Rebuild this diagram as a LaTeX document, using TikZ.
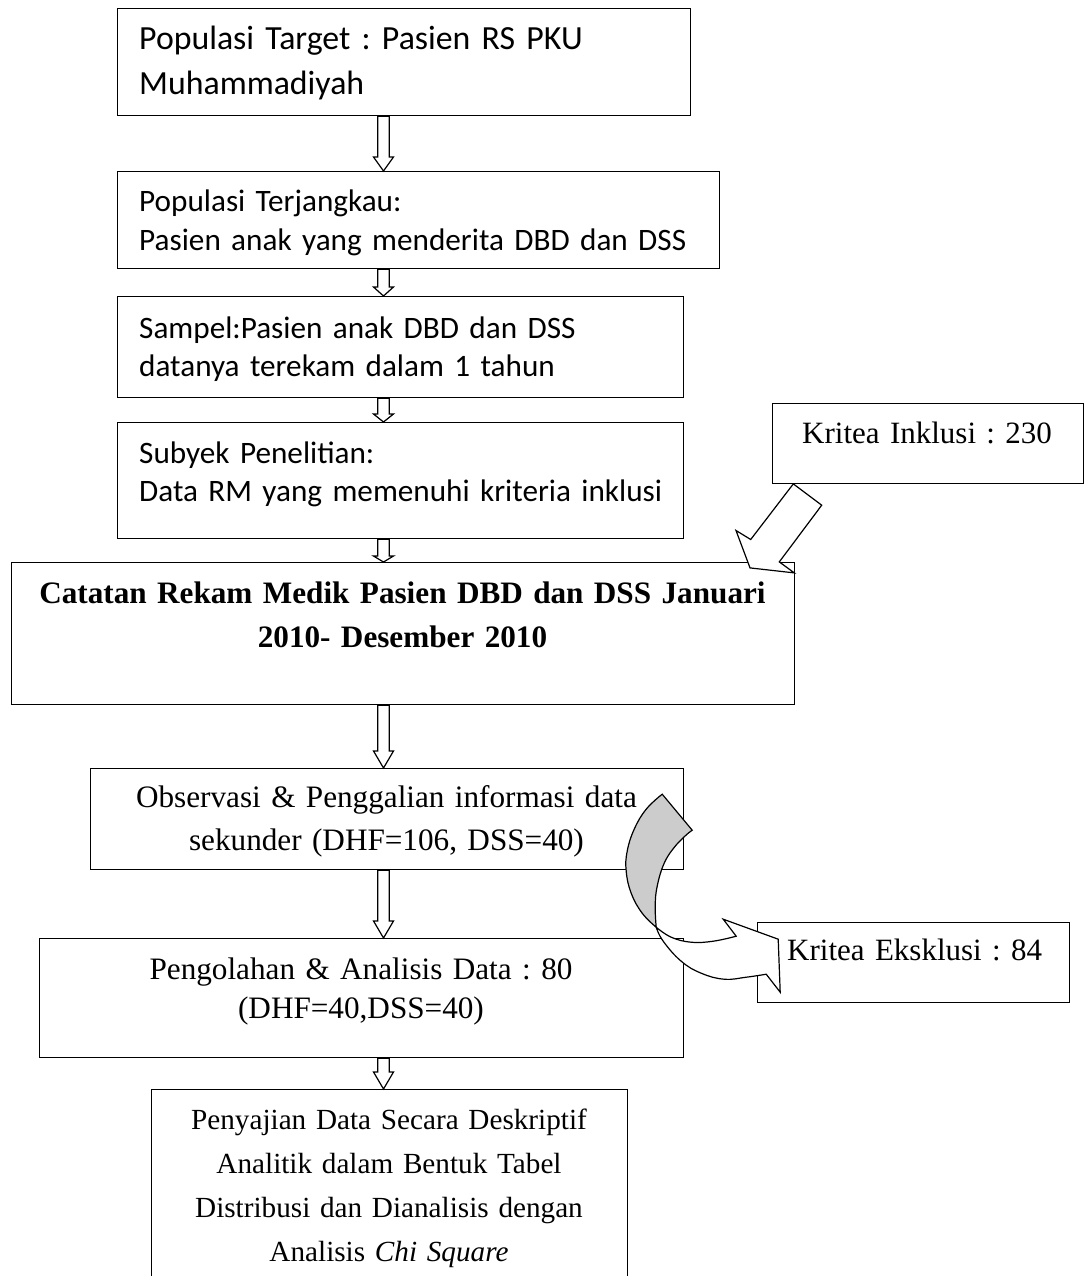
\documentclass[tikz,border=0pt]{standalone}
\usepackage{fontspec}
\setmainfont{Liberation Serif}
\newfontfamily\calibrifont{Carlito}
\usetikzlibrary{calc}
\definecolor{foldgrey}{gray}{0.8}
\frenchspacing

% hollow block arrow straight down from one box to the next
% #1 upper box, #2 lower box, #3 head length
\newcommand\hollowdown[3]{%
  \draw[hollow] ($(ax |- #1.south)+(-5.7,0)$) -- ($(ax |- #2.north)+(-5.7,-#3)$)
    -- ($(ax |- #2.north)+(-10,-#3)$) -- (ax |- #2.north)
    -- ($(ax |- #2.north)+(10,-#3)$) -- ($(ax |- #2.north)+(5.7,-#3)$)
    -- ($(ax |- #1.south)+(5.7,0)$) -- cycle;}

\begin{document}
\begin{tikzpicture}[x=1pt,y=-1pt,
  box/.style={draw, line width=1.2pt, rectangle, inner sep=0pt, anchor=north west},
  ctext/.style={inner sep=0pt, anchor=base west, align=left, text width=620pt,
    font=\calibrifont\fontsize{31.2}{38.7}\selectfont},
  stext/.style={inner sep=0pt, anchor=base, align=center,
    font=\fontsize{31.2}{42.7}\selectfont},
  ltext/.style={inner sep=0pt, anchor=base west, align=left, text width=280pt,
    font=\fontsize{31}{38}\selectfont},
  hollow/.style={draw, line width=1.2pt, fill=white, line join=miter},
]
\path[use as bounding box, clip] (0,0) rectangle (1085,1276);

% column of steps
\coordinate (ax) at (383.5,0);

\node[box, minimum width=573pt, minimum height=107pt] (tgt) at (117,8) {};
\node[ctext, font=\calibrifont\fontsize{33.8}{45.7}\selectfont] (tgtT) at (139,49.3)
  {Populasi Target : Pasien RS PKU\\Muhammadiyah};

\node[box, minimum width=602pt, minimum height=97pt] (jkw) at (117,171) {};
\node[ctext] (jkwT) at (139,211.7)
  {Populasi Terjangkau:\\Pasien anak yang menderita DBD dan DSS};

\node[box, minimum width=566pt, minimum height=101pt] (smp) at (117,296) {};
\node[ctext] (smpT) at (139,338)
  {Sampel:Pasien anak DBD dan DSS\\datanya terekam dalam 1 tahun};

\node[box, minimum width=566pt, minimum height=116pt] (sbj) at (117,422) {};
\node[ctext, font=\calibrifont\fontsize{31.2}{38.4}\selectfont] (sbjT) at (139,463.3)
  {Subyek Penelitian:\\Data RM yang memenuhi kriteria inklusi};

\node[box, minimum width=783pt, minimum height=142pt] (rm) at (11,562) {};
\node[stext, text width=783pt, font=\bfseries\fontsize{31.2}{44}\selectfont] (rmT) at (402.5,603.3)
  {Catatan Rekam Medik Pasien DBD dan DSS Januari\\2010- Desember 2010};

\node[box, minimum width=593pt, minimum height=101pt] (obs) at (90,768) {};
\node[stext, text width=593pt] (obsT) at (386.5,807.3)
  {Observasi \& Penggalian informasi data\\sekunder (DHF=106, DSS=40)};

\node[box, minimum width=644pt, minimum height=119pt] (olah) at (39,938) {};
\node[stext, text width=644pt, font=\fontsize{31.2}{39}\selectfont] (olahT) at (361,979)
  {Pengolahan \& Analisis Data : 80\\(DHF=40,DSS=40)};

\node[box, minimum width=476.3pt, minimum height=230pt] (saji) at (150.7,1089) {};
\node[stext, text width=476pt, font=\fontsize{29.2}{44.3}\selectfont] (sajiT) at (389,1129)
  {Penyajian Data Secara Deskriptif\\Analitik dalam Bentuk Tabel\\Distribusi dan Dianalisis dengan\\Analisis \textit{Chi Square}};

% side boxes
\node[box, minimum width=311pt, minimum height=80pt] (inc) at (772,403) {};
\node[ltext] (incT) at (802,443.3) {Kritea Inklusi : 230};

\node[box, minimum width=312pt, minimum height=80pt] (exc) at (757,922) {};
\node[ltext] (excT) at (787,960.7) {Kritea Eksklusi : 84};

% downward block arrows
\hollowdown{tgt}{jkw}{14}
\hollowdown{jkw}{smp}{9}
\hollowdown{smp}{sbj}{8}
\hollowdown{sbj}{rm}{6}
\hollowdown{rm}{obs}{17}
\hollowdown{obs}{olah}{17}
\hollowdown{olah}{saji}{17}

% inclusion arrow, from the side box down onto the records box
\begin{scope}[shift={($(inc.south west)-(772,483)$)}]
  \draw[hollow] (793.3,482.7) -- (821.7,504) -- (779.3,560.7) -- (794.3,571.7)
    -- (750,566.7) -- (736,529.3) -- (750.7,538.3) -- cycle;
\end{scope}

% curved exclusion arrow: grey back of the ribbon, white front with head
\begin{scope}[shift={($(obs.south east)-(683,869)$)}]
  \filldraw[fill=foldgrey, line width=1.2pt, line join=miter]
    plot[smooth, tension=0.7] coordinates {(661,793) (645,808) (633,828) (626,850) (625,870) (630,892) (641,912) (655,926)}
    -- plot[smooth, tension=0.7] coordinates {(655,926) (654,905) (656,885) (663,862) (674,845) (687,832)}
    -- (691,829) -- cycle;
  \filldraw[fill=white, line width=1.2pt, line join=miter]
    plot[smooth, tension=0.7] coordinates {(655,926) (662,940) (680,960) (700,972) (723,978) (745,976) (765,973)}
    -- (779,991) -- (777,938) -- (722,918) -- (735,935)
    -- plot[smooth, tension=0.7] coordinates {(735,935) (712,940) (690,941) (670,936) (655,926)}
    -- cycle;
\end{scope}
\end{tikzpicture}
\end{document}
